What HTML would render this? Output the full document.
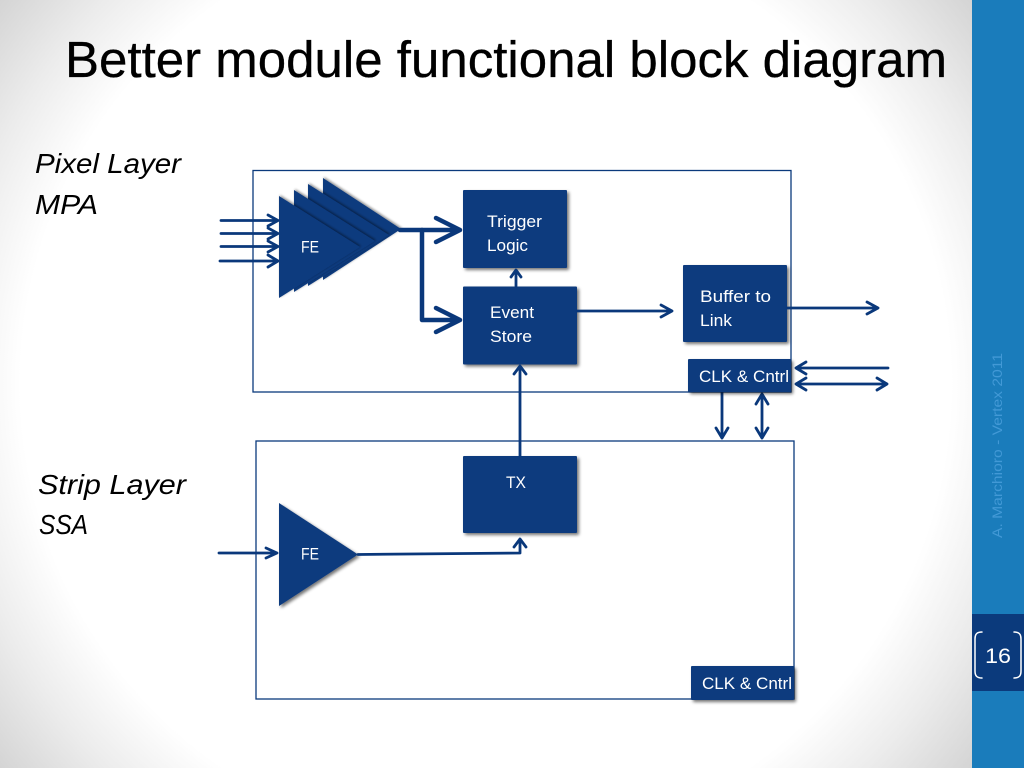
<!DOCTYPE html>
<html><head><meta charset="utf-8"><style>
html,body{margin:0;padding:0;width:1024px;height:768px;overflow:hidden;background:#fff}
svg{display:block}
text{font-family:"Liberation Sans",sans-serif}
</style></head><body>
<svg width="1024" height="768" viewBox="0 0 1024 768" xmlns="http://www.w3.org/2000/svg">
<defs>
<radialGradient id="bg" gradientUnits="userSpaceOnUse" cx="486" cy="384" r="620">
<stop offset="0.75" stop-color="#ffffff"/><stop offset="0.87" stop-color="#ececec"/><stop offset="1" stop-color="#d4d4d4"/>
</radialGradient>
<filter id="sh" x="-20%" y="-20%" width="140%" height="140%"><feGaussianBlur in="SourceAlpha" stdDeviation="1.5"/><feOffset dx="2" dy="2"/><feComponentTransfer><feFuncA type="linear" slope="0.55"/></feComponentTransfer><feMerge><feMergeNode/><feMergeNode in="SourceGraphic"/></feMerge></filter>
<filter id="sh2" x="-20%" y="-20%" width="140%" height="140%"><feGaussianBlur in="SourceAlpha" stdDeviation="1.2"/><feOffset dx="1" dy="-1"/><feComponentTransfer><feFuncA type="linear" slope="0.45"/></feComponentTransfer><feMerge><feMergeNode/><feMergeNode in="SourceGraphic"/></feMerge></filter>
</defs>
<rect width="972" height="768" fill="url(#bg)"/>
<rect x="972" width="52" height="768" fill="#1a7cbb"/>
<rect x="972" y="614" width="52" height="77" fill="#0b3a7c"/>
<text x="65" y="77" font-size="51" fill="#000" stroke="#000" stroke-width="0.3" textLength="882" lengthAdjust="spacingAndGlyphs">Better module functional block diagram</text>
<g font-size="28" font-style="italic" fill="#000">
<text x="35" y="173" textLength="146" lengthAdjust="spacingAndGlyphs">Pixel Layer</text>
<text x="35" y="214" textLength="63" lengthAdjust="spacingAndGlyphs">MPA</text>
<text x="38" y="494" textLength="148" lengthAdjust="spacingAndGlyphs">Strip Layer</text>
<text x="39" y="534" textLength="49" lengthAdjust="spacingAndGlyphs">SSA</text>
</g>
<rect x="253" y="170.5" width="538" height="221.5" fill="#fff" stroke="#0b3a7c" stroke-width="1.3"/>
<rect x="256" y="441" width="538" height="258" fill="#fff" stroke="#0b3a7c" stroke-width="1.3"/>
<g fill="none" stroke="#0a387b" stroke-linecap="round" stroke-linejoin="round" stroke-width="2.8">
<path d="M221 220.5H278M268 215l10 5.500l-10 5.500"/>
<path d="M221 233.500H278M268 228l10 5.500l-10 5.500"/>
<path d="M221 246.500H278M268 241l10 5.500l-10 5.500"/>
<path d="M220 261H278M268 255l10 6l-10 6"/>
</g>
<g fill="#0b3a7e">
<g filter="url(#sh2)"><polygon points="323,178 323,280 401,229"/></g>
<g filter="url(#sh2)"><polygon points="308,184 308,286 389,235"/></g>
<g filter="url(#sh2)"><polygon points="294,190 294,292 375,241"/></g>
<g filter="url(#sh2)"><polygon points="279,196 279,298 360,247"/></g>
<g filter="url(#sh)">
<rect x="463" y="190" width="104" height="78" rx="1"/>
<rect x="463" y="286.5" width="114" height="78" rx="1"/>
<rect x="683" y="265" width="104" height="77" rx="1"/>
<rect x="463" y="456" width="114" height="77" rx="1"/>
<polygon points="279,503 279,606 358,554.5"/>
</g>
</g>
<g fill="none" stroke="#0a387b" stroke-linecap="round" stroke-linejoin="round">
<g stroke-width="2.8">
<path d="M516 286V271M511 277l5 -7l5 7"/>
<path d="M520 456V366M514 374l6 -8l6 8"/>
<path d="M577 311H672M661 305l11 6l-11 6"/>
<path d="M787 308H878M867 302l11 6l-11 6"/>
<path d="M888 368H796M806 362l-10 6l10 6"/>
<path d="M796 384H887M806 378l-10 6l10 6M877 378l10 6l-10 6"/>
<path d="M722 392V438M716 428l6 10l6 -10"/>
<path d="M762 394V438M756 404l6 -10l6 10M756 428l6 10l6 -10"/>
<path d="M219 553H277M266 548l11 5l-11 5"/>
<path d="M358 554.500L520 553V539M514 547l6 -8l6 8"/>
</g>
<g stroke-width="4.500">
<path d="M400 230H460M436 218l24 12l-24 12"/>
<path d="M422 230V320H460M436 308l24 12l-24 12"/>
</g>
</g>
<g fill="#0b3a7e" filter="url(#sh)">
<rect x="688" y="359" width="103" height="33" rx="1"/>
<rect x="691" y="666" width="103" height="34" rx="1"/>
</g>
<g font-size="17" fill="#fff">
<text x="301" y="252.500" textLength="18" lengthAdjust="spacingAndGlyphs">FE</text>
<text x="301" y="559.500" textLength="18" lengthAdjust="spacingAndGlyphs">FE</text>
<text x="487" y="227" textLength="55" lengthAdjust="spacingAndGlyphs">Trigger</text>
<text x="487" y="251" textLength="41" lengthAdjust="spacingAndGlyphs">Logic</text>
<text x="490" y="318" textLength="44" lengthAdjust="spacingAndGlyphs">Event</text>
<text x="490" y="342" textLength="42" lengthAdjust="spacingAndGlyphs">Store</text>
<text x="700" y="302" textLength="71" lengthAdjust="spacingAndGlyphs">Buffer to</text>
<text x="700" y="326" textLength="32" lengthAdjust="spacingAndGlyphs">Link</text>
<text x="506" y="488" textLength="20" lengthAdjust="spacingAndGlyphs">TX</text>
<text x="699" y="382" textLength="90" lengthAdjust="spacingAndGlyphs">CLK &amp; Cntrl</text>
<text x="702" y="689" textLength="90" lengthAdjust="spacingAndGlyphs">CLK &amp; Cntrl</text>
</g>
<text transform="translate(1002,538) rotate(-90)" font-size="14" fill="#4299d6" textLength="185" lengthAdjust="spacingAndGlyphs">A. Marchioro - Vertex 2011</text>
<text x="985" y="663" font-size="21" fill="#fff" textLength="26" lengthAdjust="spacingAndGlyphs">16</text>
<g fill="none" stroke="#fff" stroke-width="1.500" stroke-linecap="round">
<path d="M982 632C977 632 975 634 975 639V671C975 676 977 678 982 678"/>
<path d="M1014 632C1019 632 1021 634 1021 639V671C1021 676 1019 678 1014 678"/>
</g>
</svg>
</body></html>
